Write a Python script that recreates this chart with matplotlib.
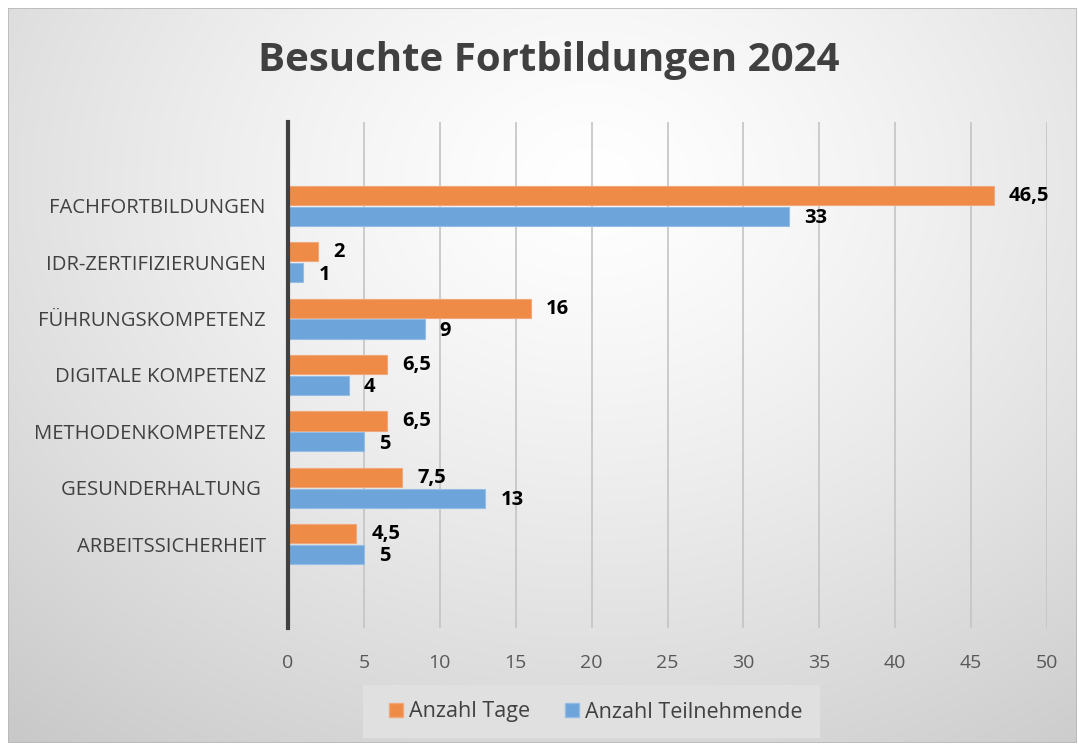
import numpy as np
import matplotlib
matplotlib.use("Agg")
import matplotlib.pyplot as plt
from matplotlib.patches import Rectangle, Patch

categories = ["FACHFORTBILDUNGEN", "IDR-ZERTIFIZIERUNGEN", "FÜHRUNGSKOMPETENZ",
              "DIGITALE KOMPETENZ", "METHODENKOMPETENZ", "GESUNDERHALTUNG ", "ARBEITSSICHERHEIT"]
tage = [46.5, 2, 16, 6.5, 6.5, 7.5, 4.5]
teilnehmende = [33, 1, 9, 4, 5, 13, 5]
tage_labels = ["46,5", "2", "16", "6,5", "6,5", "7,5", "4,5"]
teil_labels = ["33", "1", "9", "4", "5", "13", "5"]
xticks = [0, 5, 10, 15, 20, 25, 30, 35, 40, 45, 50]

W, H = 1079, 745
fig = plt.figure(figsize=(W / 100, H / 100), dpi=100)
fig.patch.set_facecolor("white")

# gradient background
bg = fig.add_axes([8 / W, 2 / H, (W - 10) / W, (H - 10) / H])
bg.set_axis_off()
yy, xx = np.mgrid[0:300, 0:440]
cx, cy = 240, 70
r = np.sqrt(((xx - cx) / 330.0) ** 2 + ((yy - cy) / 260.0) ** 2)
r = np.clip(r, 0, 1.2)
val = 1.0 - 0.23 * (r / 1.2) ** 1.3
img = np.dstack([val, val, val])
bg.imshow(img, aspect="auto", extent=[0, 1, 0, 1], origin="upper", zorder=0)
bg.add_patch(Rectangle((0, 0), 1, 1, transform=bg.transAxes, fill=False,
                       edgecolor="#b8b8b8", linewidth=1.2))

# legend box
fig.patches.append(Rectangle((363 / W, 1 - 738 / H), (820 - 363) / W, (738 - 685) / H,
                             transform=fig.transFigure, facecolor="#e0e0e0",
                             edgecolor="none", zorder=1))

ax = fig.add_axes([288 / W, 1 - 628 / H, (1047 - 288) / W, (628 - 122) / H])
ax.set_facecolor("none")
n = len(categories)
y = np.arange(n)
h = 0.34
orange = "#ED8B47"
blue = "#6DA4D9"
ax.barh(y - 0.185, tage, height=h, color=orange, edgecolor="#F2A77A", linewidth=0.8, zorder=3)
ax.barh(y + 0.185, teilnehmende, height=h, color=blue, edgecolor="#93BDE6", linewidth=0.8, zorder=3)

for i in range(n):
    ax.text(tage[i] + 1.0, y[i] - 0.18, tage_labels[i], va="center", ha="left",
            fontsize=14.5, fontweight="bold", color="black", family="Open Sans", zorder=4)
    ax.text(teilnehmende[i] + 1.0, y[i] + 0.22, teil_labels[i], va="center", ha="left",
            fontsize=14.5, fontweight="bold", color="black", family="Open Sans", zorder=4)

ax.set_xlim(0, 50)
ax.set_ylim(n - 1 + 1.49, -1.49)
ax.set_xticks(xticks)
ax.set_xticklabels([str(t) for t in xticks], fontsize=14, color="#595959", family="Open Sans")
ax.set_yticks(y)
ax.set_yticklabels(categories, fontsize=14.6, color="#404040", family="Open Sans")
ax.tick_params(axis="x", length=0, pad=19)
ax.tick_params(axis="y", length=0, pad=16)
ax.grid(axis="x", color="#c4c4c4", linewidth=1.2, zorder=0)
for s in ["top", "right", "bottom"]:
    ax.spines[s].set_visible(False)
ax.spines["left"].set_color("#404040")
ax.spines["left"].set_linewidth(3)
ax.spines["left"].set_zorder(5)

fig.text(549 / W, 1 - 60 / H, "Besuchte Fortbildungen 2024", ha="center", va="center",
         fontsize=29, fontweight="bold", color="#404040", family="Open Sans")

handles = [Patch(facecolor=orange, edgecolor="#F2A77A"), Patch(facecolor=blue, edgecolor="#93BDE6")]
leg = fig.legend(handles, ["Anzahl Tage", "Anzahl Teilnehmende"], loc="center",
                 bbox_to_anchor=(596 / W, 1 - 712 / H), ncol=2, frameon=False,
                 handlelength=0.65, handleheight=0.65,
                 handletextpad=0.3, columnspacing=1.6, borderpad=0.8,
                 prop={"family": "Open Sans", "size": 15.5})
for t in leg.get_texts():
    t.set_color("#404040")

fig.savefig("out.png", dpi=100)
